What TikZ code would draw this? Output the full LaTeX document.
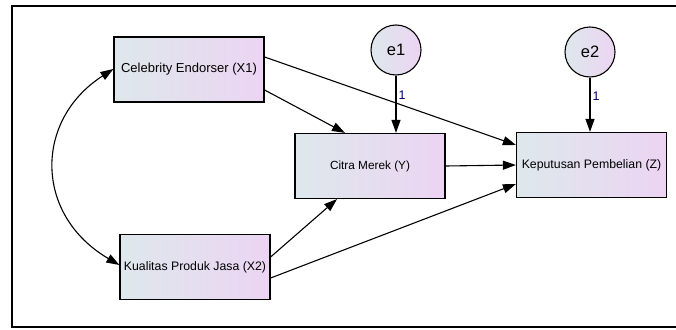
\documentclass[tikz,border=0pt]{standalone}
\usepackage{fontspec}
\setmainfont{Liberation Sans}
\usetikzlibrary{arrows.meta}

\definecolor{boxleft}{RGB}{222,232,236}
\definecolor{boxright}{RGB}{236,212,242}

\tikzset{
  var/.style={draw=black, line width=1.2pt, minimum width=150pt, minimum height=65pt,
    left color=boxleft, right color=boxright, font=\fontsize{12.3}{14}\selectfont},
  err/.style={circle, draw=black, line width=1.1pt, minimum size=50pt, inner sep=0pt,
    left color=boxleft, right color=boxright, font=\fontsize{16.5}{18}\selectfont},
  path/.style={line width=1.1pt, -{Triangle[length=13pt,width=9pt]}},
  wlabel/.style={font=\fontsize{12.5}{13}\selectfont, text=blue!45!black, inner sep=2pt}
}

\begin{document}
\begin{tikzpicture}[x=1pt, y=-1pt]
            \useasboundingbox (0,0) rectangle (676,329);
            \draw[black, line width=1.2pt] (12,6) rectangle (690,327);

            \node[var] (x1) at (189,69.5) {\fontsize{13}{14}\selectfont Celebrity Endorser (X1)};
            \node[var] (x2) at (195,267) {Kualitas Produk Jasa (X2)};
            \node[var] (y)  at (370,166) {\fontsize{11.8}{13}\selectfont Citra Merek (Y)};
            \node[var] (z)  at (591.5,165) {Keputusan Pembelian (Z)};
            \node[err] (e1) at (396,50) {e1};
            \node[err] (e2) at (590,52) {e2};

            \draw[path] (x1.east |- 0,90) -- (y.north -| 345,0);
            \draw[path] (x1.east |- 0,57) -- (z.west |- 0,145);
            \draw[path] (y.east) -- (z.west);
            \draw[path] (x2.east |- 0,257) -- (y.south -| 337,0);
            \draw[path] (x2.east |- 0,278) -- (z.west |- 0,184);

            \draw[path] (e1.south) -- node[wlabel, right, pos=0.35] {1} (e1.south |- y.north);
            \draw[path] (e2.south) -- node[wlabel, right, pos=0.35] {1} (e2.south |- z.north);

            \draw[line width=1.1pt, {Triangle[length=13pt,width=9pt]}-{Triangle[length=13pt,width=9pt]}]
              (x1.west |- 0,69) .. controls (34,120) and (34,215) .. (x2.west |- 0,265);
        \end{tikzpicture}
\end{document}
